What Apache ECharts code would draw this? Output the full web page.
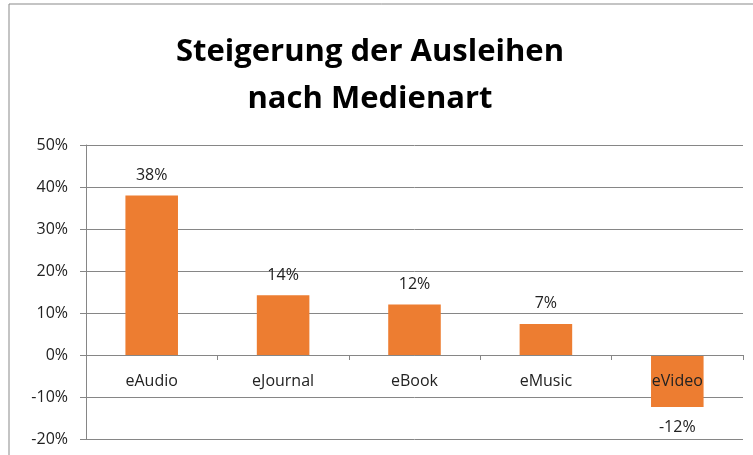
<!DOCTYPE html>
<html>
<head>
<meta charset="utf-8">
<script src="https://cdn.jsdelivr.net/npm/echarts@6/dist/echarts.min.js"></script>
<style>
  html, body { margin: 0; padding: 0; background: #fff; }
  #main { width: 753px; height: 455px; }
</style>
</head>
<body>
<div id="main"></div>
<script>
  // Medienarten und Steigerung (Anteil)
  var categories = ['eAudio', 'eJournal', 'eBook', 'eMusic', 'eVideo']
  var values = [0.38, 0.142, 0.12, 0.074, -0.124]
  var labels = ['38%', '14%', '12%', '7%', '-12%']

  var myChart = echarts.init(document.getElementById('main'))

  var barData = values.map(function (v, i) {
    return {
      value: v,
      label: {
        position: v < 0 ? 'bottom' : 'top',
        formatter: labels[i]
      }
    }
  })

  var option = {
    animation: false,
    title: {
      text: 'Steigerung der Ausleihen\nnach Medienart',
      left: 365,
      top: 24,
      textAlign: 'center',
      textStyle: {
        fontFamily: 'Open Sans',
        fontWeight: 'bold',
        fontSize: 31,
        lineHeight: 47,
        color: '#000'
      }
    },
    graphic: [
      {
        type: 'rect',
        shape: { x: 9, y: 4, width: 800, height: 500 },
        style: { fill: 'none', stroke: '#898989', lineWidth: 1 },
        silent: true
      }
    ],
    grid: {
      left: 86,
      right: 10,
      top: 145,
      bottom: 16,
      containLabel: false,
      outerBoundsMode: 'none'
    },
    xAxis: {
      type: 'category',
      data: categories,
      z: 10,
      offset: -84,
      axisLine: { onZero: false, lineStyle: { color: '#868686' } },
      axisTick: { show: true, length: 5, lineStyle: { color: '#868686' } },
      axisLabel: {
        color: '#222',
        fontFamily: 'Open Sans',
        fontSize: 16,
        margin: 18
      }
    },
    yAxis: {
      type: 'value',
      min: -0.2,
      max: 0.5,
      interval: 0.1,
      axisLine: { show: true, lineStyle: { color: '#868686' } },
      axisTick: { show: true, length: 6, lineStyle: { color: '#868686' } },
      splitLine: { lineStyle: { color: '#868686' } },
      axisLabel: {
        color: '#222',
        fontFamily: 'Open Sans',
        fontSize: 16,
        margin: 18,
        formatter: function (v) {
          return Math.round(v * 100) + '%'
        }
      }
    },
    series: [
      {
        type: 'bar',
        data: barData,
        barWidth: '40%',
        itemStyle: { color: '#ED7D31' },
        label: {
          show: true,
          distance: 12,
          color: '#222',
          fontFamily: 'Open Sans',
          fontSize: 16
        }
      }
    ]
  }

  myChart.setOption(option)
</script>
</body>
</html>
